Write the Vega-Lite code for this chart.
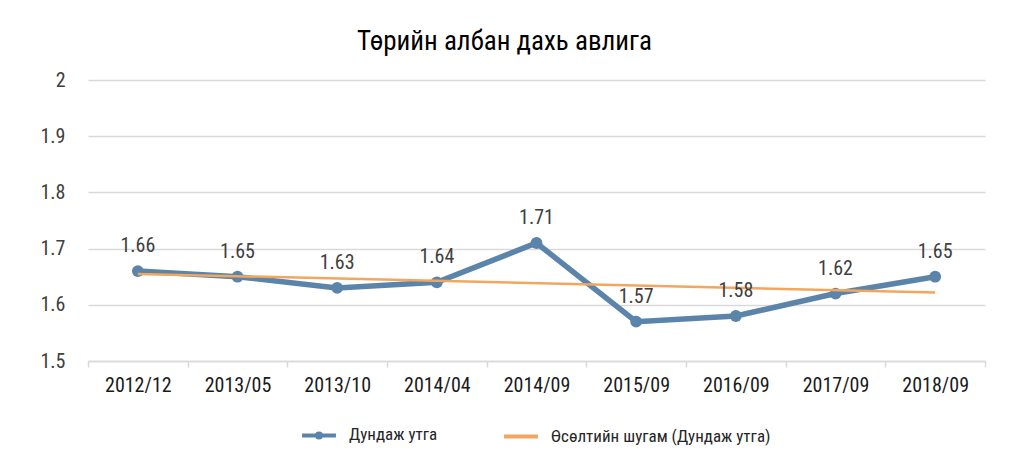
{
  "$schema": "https://vega.github.io/schema/vega-lite/v6.json",
  "autosize": {"type": "none"},
  "width": 897,
  "height": 281,
  "padding": {"left": 88, "top": 80, "right": 31, "bottom": 92},
  "background": "white",
  "config": {
    "font": "Roboto Condensed, Liberation Sans Narrow, DejaVu Sans Condensed, Roboto, sans-serif",
    "view": {"stroke": null}
  },
  "title": {
    "text": "Төрийн албан дахь авлига",
    "fontSize": 27,
    "fontWeight": "normal",
    "color": "#000000",
    "anchor": "middle",
    "dx": -32,
    "offset": 14
  },
  "data": {
    "values": [
      {"period": "2012/12", "value": 1.66, "trend": 1.655},
      {"period": "2013/05", "value": 1.65},
      {"period": "2013/10", "value": 1.63},
      {"period": "2014/04", "value": 1.64},
      {"period": "2014/09", "value": 1.71},
      {"period": "2015/09", "value": 1.57},
      {"period": "2016/09", "value": 1.58},
      {"period": "2017/09", "value": 1.62},
      {"period": "2018/09", "value": 1.65, "trend": 1.622}
    ]
  },
  "encoding": {
    "x": {
      "field": "period",
      "type": "ordinal",
      "sort": null,
      "scale": {"type": "band", "paddingInner": 0, "paddingOuter": 0},
      "axis": {
        "title": null,
        "labelAngle": 0,
        "labelFontSize": 20,
        "labelColor": "#1a1a1a",
        "labelPadding": 8,
        "domainColor": "#D9D9D9",
        "domainWidth": 1.5,
        "tickColor": "#D9D9D9",
        "tickWidth": 1.5,
        "tickSize": 6,
        "tickBand": "extent",
        "grid": false
      }
    }
  },
  "layer": [
    {
      "mark": {"type": "line", "strokeWidth": 5.5, "point": {"filled": true, "size": 140}},
      "encoding": {
        "y": {
          "field": "value",
          "type": "quantitative",
          "scale": {"domain": [1.5, 2], "nice": false, "zero": false},
          "axis": {
            "title": null,
            "values": [1.5, 1.6, 1.7, 1.8, 1.9, 2],
            "format": ".2~f",
            "labelFontSize": 20,
            "labelColor": "#404040",
            "labelPadding": 23,
            "domain": false,
            "ticks": false,
            "gridColor": "#D9D9D9",
            "gridWidth": 1.5
          }
        },
        "color": {
          "datum": "Дундаж утга",
          "type": "nominal",
          "scale": {
            "domain": ["Дундаж утга", "Өсөлтийн шугам (Дундаж утга)"],
            "range": ["#5B84AA", "#F2A65E"]
          },
          "legend": {
            "title": null,
            "orient": "none",
            "legendX": 212,
            "legendY": 336,
            "direction": "horizontal",
            "symbolType": "stroke",
            "symbolSize": 1150,
            "symbolStrokeWidth": 4,
            "labelFontSize": 17,
            "labelLimit": 400,
            "labelColor": "#262626",
            "labelOffset": 11,
            "columnPadding": 58,
            "encode": {
              "symbols": {
                "update": {
                  "shape": {"signal": "datum.value === 'Дундаж утга' ? 'M-1,0H1M0.12,0A0.12,0.12,0,1,1,-0.12,0A0.12,0.12,0,1,1,0.12,0Z' : 'stroke'"},
                  "fill": {"signal": "datum.value === 'Дундаж утга' ? '#5B84AA' : 'transparent'"},
                  "stroke": {"signal": "datum.value === 'Дундаж утга' ? '#5B84AA' : '#FFC000'"}
                }
              }
            }
          }
        }
      }
    },
    {
      "transform": [{"filter": "isValid(datum.trend)"}],
      "mark": {"type": "line", "strokeWidth": 2.5},
      "encoding": {
        "y": {"field": "trend", "type": "quantitative"},
        "color": {"datum": "Өсөлтийн шугам (Дундаж утга)", "type": "nominal"}
      }
    },
    {
      "mark": {"type": "text", "fontSize": 20, "color": "#404040", "dy": -25},
      "encoding": {
        "y": {"field": "value", "type": "quantitative"},
        "text": {"field": "value", "type": "quantitative", "format": ".2f"}
      }
    }
  ]
}
